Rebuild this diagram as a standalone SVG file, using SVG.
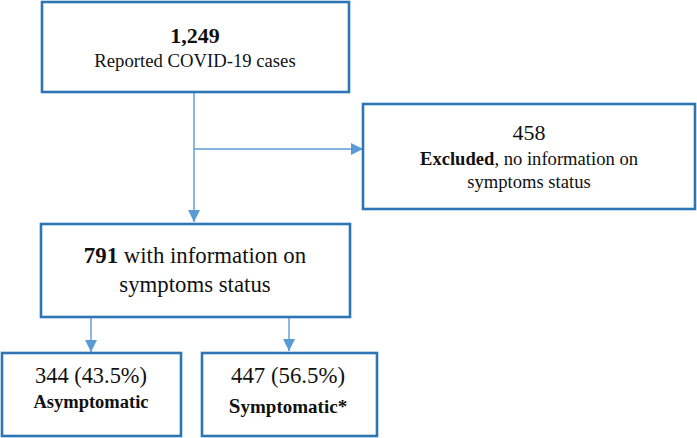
<svg xmlns="http://www.w3.org/2000/svg" width="697" height="438" viewBox="0 0 697 438">
<defs>
<style>
.box{fill:#fff;stroke:#2e75b6;stroke-width:2.6}
.t{font-family:"Liberation Serif","Times New Roman",serif;fill:#111;text-anchor:middle}
.b{font-weight:bold}
.ln{fill:none;stroke:#5b9bd5;stroke-width:1.4}
</style>
<marker id="ah" viewBox="0 0 10 10" refX="10" refY="5" markerWidth="9" markerHeight="9" markerUnits="userSpaceOnUse" orient="auto">
<path d="M0,0 L10,5 L0,10 z" fill="#5b9bd5"/>
</marker>
<marker id="ahb" viewBox="0 0 10 10" refX="10" refY="5" markerWidth="12" markerHeight="12" markerUnits="userSpaceOnUse" orient="auto">
<path d="M0,0 L10,5 L0,10 z" fill="#5b9bd5"/>
</marker>
</defs>
<rect width="697" height="438" fill="#fff"/>
<g id="connectors">
<path class="ln" d="M194,93 V222" marker-end="url(#ahb)"/>
<path class="ln" d="M194,149 H363" marker-end="url(#ahb)"/>
<path class="ln" d="M91,317 V352" marker-end="url(#ahb)"/>
<path class="ln" d="M289,317 V351" marker-end="url(#ahb)"/>
</g>
<g id="n1">
<rect class="box" x="42" y="2" width="307" height="90"/>
<text class="t b" x="195" y="43" font-size="22">1,249</text>
<text class="t" x="195" y="67" font-size="18.7">Reported COVID-19 cases</text>
</g>
<g id="n2">
<rect class="box" x="363" y="104" width="332" height="105"/>
<text class="t" x="529" y="140" font-size="22">458</text>
<text class="t" x="529" y="165" font-size="18.6"><tspan class="b">Excluded</tspan>, no information on</text>
<text class="t" x="529" y="188" font-size="18.6">symptoms status</text>
</g>
<g id="n3">
<rect class="box" x="41" y="224" width="309" height="93"/>
<text class="t" x="195" y="263" font-size="22.8"><tspan class="b">791</tspan> with information on</text>
<text class="t" x="195" y="292" font-size="22.8">symptoms status</text>
</g>
<g id="n4">
<rect class="box" x="2" y="353" width="179" height="83"/>
<text class="t" x="91" y="383" font-size="22.4">344 (43.5%)</text>
<text class="t b" x="91" y="408" font-size="18.5">Asymptomatic</text>
</g>
<g id="n5">
<rect class="box" x="202" y="353" width="175" height="83"/>
<text class="t" x="288" y="383" font-size="22.8">447 (56.5%)</text>
<text class="t b" x="288" y="413" font-size="19"><tspan font-size="21">S</tspan>ymptomatic*</text>
</g>
</svg>
